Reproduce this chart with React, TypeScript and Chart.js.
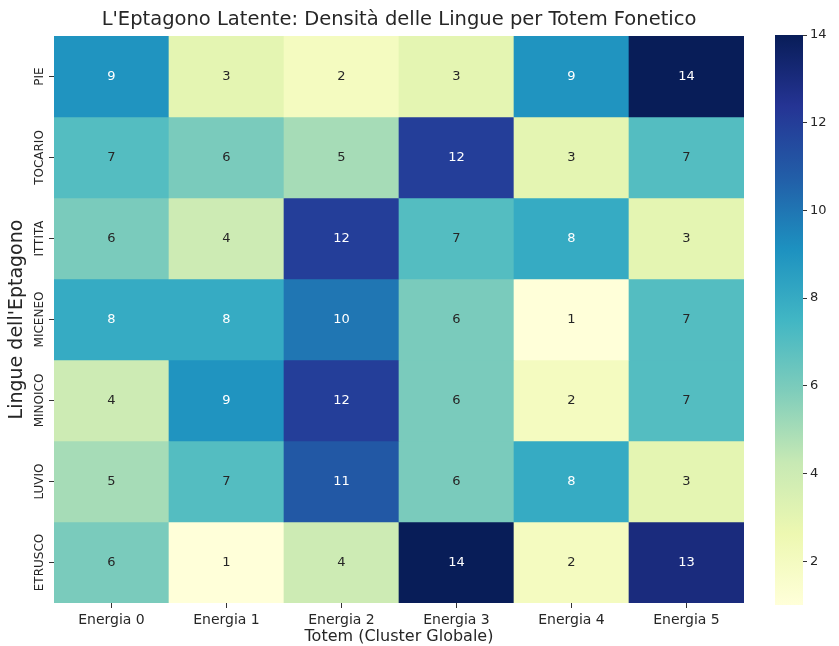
import { useEffect, useRef } from 'react';
import { Chart, registerables } from 'chart.js';

Chart.register(...registerables);

const TITLE = "L'Eptagono Latente: Densità delle Lingue per Totem Fonetico";
const X_TITLE = 'Totem (Cluster Globale)';
const Y_TITLE = "Lingue dell'Eptagono";

const COLUMNS = ['Energia 0', 'Energia 1', 'Energia 2', 'Energia 3', 'Energia 4', 'Energia 5'];
const ROWS = ['PIE', 'TOCARIO', 'ITTITA', 'MICENEO', 'MINOICO', 'LUVIO', 'ETRUSCO'];

const PIE = [9, 3, 2, 3, 9, 14];
const TOCARIO = [7, 6, 5, 12, 3, 7];
const ITTITA = [6, 4, 12, 7, 8, 3];
const MICENEO = [8, 8, 10, 6, 1, 7];
const MINOICO = [4, 9, 12, 6, 2, 7];
const LUVIO = [5, 7, 11, 6, 8, 3];
const ETRUSCO = [6, 1, 4, 14, 2, 13];
const VALUES = [PIE, TOCARIO, ITTITA, MICENEO, MINOICO, LUVIO, ETRUSCO];

const V_MIN = 1;
const V_MAX = 14;
const CB_TICKS = [2, 4, 6, 8, 10, 12, 14];

const YLGNBU = ['#ffffd9', '#edf8b1', '#c7e9b4', '#7fcdbb', '#41b6c4', '#1d91c0', '#225ea8', '#253494', '#081d58'];

const FONT = '"DejaVu Sans", sans-serif';
const TEXT = '#262626';

function hexToRgb(h: string): number[] {
  return [parseInt(h.slice(1, 3), 16), parseInt(h.slice(3, 5), 16), parseInt(h.slice(5, 7), 16)];
}
const STOPS = YLGNBU.map(hexToRgb);

function rgbAt(t: number): number[] {
  const tt = Math.max(0, Math.min(1, t));
  const f = tt * (STOPS.length - 1);
  const i = Math.min(STOPS.length - 2, Math.floor(f));
  const k = f - i;
  return STOPS[i].map((c, j) => Math.round(c + (STOPS[i + 1][j] - c) * k));
}
function colorFor(v: number): string {
  const [r, g, b] = rgbAt((v - V_MIN) / (V_MAX - V_MIN));
  return `rgb(${r},${g},${b})`;
}
function textColorFor(v: number): string {
  const rgb = rgbAt((v - V_MIN) / (V_MAX - V_MIN));
  const lin = rgb.map((c) => {
    const s = c / 255;
    return s <= 0.03928 ? s / 12.92 : Math.pow((s + 0.055) / 1.055, 2.4);
  });
  const lum = 0.2126 * lin[0] + 0.7152 * lin[1] + 0.0722 * lin[2];
  return lum > 0.408 ? TEXT : '#ffffff';
}

const heatmapText = {
  id: 'heatmapText',
  afterDraw(chart: any) {
    const { ctx, scales } = chart;
    const x = scales.x;
    const y = scales.y;
    ctx.save();
    ctx.textAlign = 'center';
    ctx.textBaseline = 'middle';
    ctx.font = `13px ${FONT}`;
    VALUES.forEach((row, r) => {
      row.forEach((v, c) => {
        ctx.fillStyle = textColorFor(v);
        ctx.fillText(String(v), x.getPixelForValue(c), y.getPixelForValue(r));
      });
    });
    ctx.font = `12px ${FONT}`;
    ctx.fillStyle = TEXT;
    ROWS.forEach((name, r) => {
      ctx.save();
      ctx.translate(y.right - 14, y.getPixelForValue(r));
      ctx.rotate(-Math.PI / 2);
      ctx.fillText(name, 0, 0);
      ctx.restore();
    });
    ctx.restore();
  },
};

export default function App() {
  const mainRef = useRef<HTMLCanvasElement>(null);
  const cbRef = useRef<HTMLCanvasElement>(null);

  useEffect(() => {
    Chart.defaults.font.family = FONT;
    Chart.defaults.color = TEXT;
    const main = new Chart(mainRef.current!, {
      type: 'bar',
      data: {
        labels: COLUMNS,
        datasets: ROWS.map((row, r) => ({
          label: row,
          data: COLUMNS.map(() => [r - 0.5, r + 0.5]),
          backgroundColor: VALUES[r].map(colorFor),
          borderWidth: 0,
          grouped: false,
          barPercentage: 1,
          categoryPercentage: 1,
        })) as any,
      },
      options: {
        responsive: false,
        animation: false,
        events: [],
        layout: { padding: { left: 0, right: 95, top: 0, bottom: 0 } },
        plugins: {
          legend: { display: false },
          tooltip: { enabled: false },
          title: {
            display: true,
            text: TITLE,
            color: TEXT,
            fullSize: false,
            font: { size: 19.5, weight: 'normal' },
            padding: { top: 8, bottom: 4.6 },
          },
        },
        scales: {
          x: {
            type: 'category',
            grid: { display: true, offset: false, drawOnChartArea: false, drawTicks: true, tickLength: 5, color: '#333' },
            border: { display: false },
            ticks: { color: TEXT, font: { size: 14 }, padding: 4, maxRotation: 0 },
            title: { display: true, text: X_TITLE, color: TEXT, font: { size: 16 }, padding: { top: 0, bottom: 0 } },
            afterFit: (s: any) => {
              s.height = 43;
            },
          },
          y: {
            type: 'linear',
            min: -0.5,
            max: ROWS.length - 0.5,
            reverse: true,
            afterBuildTicks: (s: any) => {
              s.ticks = ROWS.map((_, i) => ({ value: i }));
            },
            grid: { display: true, drawOnChartArea: false, drawTicks: true, tickLength: 5, color: '#333' },
            border: { display: false },
            ticks: { display: false },
            title: { display: true, text: Y_TITLE, color: TEXT, font: { size: 19 }, padding: { top: 6, bottom: 0 } },
            afterFit: (s: any) => {
              s.width = 54;
            },
          },
        },
      },
      plugins: [heatmapText],
    });

    const cb = new Chart(cbRef.current!, {
      type: 'bar',
      data: {
        labels: [''],
        datasets: [
          {
            data: [[V_MIN, V_MAX]] as any,
            backgroundColor: (c: any) => {
              const area = c.chart.chartArea;
              if (!area) return 'rgba(0,0,0,0)';
              const g = c.chart.ctx.createLinearGradient(0, area.bottom, 0, area.top);
              YLGNBU.forEach((col, i) => g.addColorStop(i / (YLGNBU.length - 1), col));
              return g;
            },
            borderWidth: 0,
            barPercentage: 1,
            categoryPercentage: 1,
          },
        ],
      },
      options: {
        responsive: false,
        animation: false,
        events: [],
        layout: { padding: { left: 25, right: 0, top: 35, bottom: 41 } },
        plugins: { legend: { display: false }, tooltip: { enabled: false }, title: { display: false } },
        scales: {
          x: { display: false },
          y: {
            position: 'right',
            min: V_MIN,
            max: V_MAX,
            afterBuildTicks: (s: any) => {
              s.ticks = CB_TICKS.map((v) => ({ value: v }));
            },
            grid: { display: true, drawOnChartArea: false, drawTicks: true, tickLength: 4, color: '#333' },
            border: { display: false },
            ticks: { color: TEXT, font: { size: 13 }, padding: 3 },
            afterFit: (s: any) => {
              s.width = 36;
            },
          },
        },
      },
    });

    return () => {
      main.destroy();
      cb.destroy();
    };
  }, []);

  return (
    <div style={{ position: 'absolute', left: 0, top: 0, width: 839, height: 646, background: '#fff' }}>
      <canvas ref={mainRef} width={839} height={646} style={{ position: 'absolute', left: 0, top: 0 }} />
      <canvas ref={cbRef} width={89} height={646} style={{ position: 'absolute', left: 750, top: 0 }} />
    </div>
  );
}
